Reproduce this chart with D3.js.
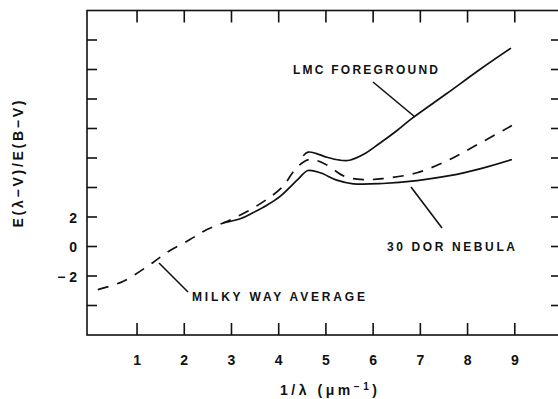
<!DOCTYPE html>
<html lang="en">
<head>
    <meta charset="UTF-8">
    <title>Extinction curves: LMC foreground, 30 Dor nebula, Milky Way average</title>
    <script src="https://d3js.org/d3.v7.min.js"></script>
    <style>
        body { margin: 0; background: #fff; }
        text { font-family: "Liberation Sans", Arial, sans-serif; font-weight: bold; fill: #111; }
    </style>
</head>
<body>
    <div id="chart"></div>

    <script>
        // values: [1/lambda, E(lambda-V)/E(B-V)]
        const lmcForeground = [
            [4.52, 6.15], [4.62, 6.4], [4.8, 6.3], [5.02, 6.05], [5.3, 5.85], [5.5, 5.85],
            [5.8, 6.25], [6.14, 7.0], [6.5, 7.85], [6.85, 8.75], [7.56, 10.37], [8.26, 12.0], [8.92, 13.45]
        ];
        const doradusNebula = [
            [2.82, 1.6], [3.2, 1.9], [3.46, 2.3], [3.75, 2.8], [4.03, 3.4], [4.39, 4.5], [4.62, 5.15],
            [4.88, 5.0], [5.23, 4.5], [5.58, 4.25], [6.2, 4.27], [6.93, 4.47], [7.62, 4.8], [8.3, 5.3], [8.94, 5.9]
        ];
        const milkyWay = [
            [0.17, -2.92], [0.7, -2.37], [1.34, -1.08], [1.63, -0.41], [2.12, 0.47], [2.48, 1.15],
            [2.9, 1.7], [3.33, 2.37], [3.75, 3.2], [4.09, 4.07], [4.34, 5.2], [4.56, 5.8], [4.7, 5.9],
            [4.98, 5.6], [5.4, 4.75], [5.79, 4.54], [6.2, 4.6], [6.93, 5.0], [7.62, 5.9], [7.9, 6.37], [8.94, 8.2]
        ];
        const xTicks = [1, 2, 3, 4, 5, 6, 7, 8, 9];
        const yTicks = [-4, -2, 0, 2, 4, 6, 8, 10, 12, 14];
        const yTickLabels = { "2": "2", "0": "0", "-2": "\u2212 2" };

        const width = 558;
        const height = 399;

        const svg = d3.select("#chart")
            .append("svg")
            .attr("width", width)
            .attr("height", height);

        const x = d3.scaleLinear().domain([-0.06, 10]).range([87, 562]);
        const y = d3.scaleLinear().domain([-6, 16]).range([335, 10.5]);

        // frame
        const frame = svg.append("g")
            .attr("stroke", "#111")
            .attr("stroke-width", 1.6)
            .attr("fill", "none");
        frame.append("rect")
            .attr("x", x(-0.06))
            .attr("y", y(16))
            .attr("width", x(10) - x(-0.06))
            .attr("height", y(-6) - y(16));

        // inward ticks on all four sides
        frame.selectAll(".xb").data(xTicks).join("line")
            .attr("x1", d => x(d)).attr("x2", d => x(d))
            .attr("y1", y(-6)).attr("y2", y(-6) - 12);
        frame.selectAll(".xt").data(xTicks).join("line")
            .attr("x1", d => x(d)).attr("x2", d => x(d))
            .attr("y1", y(16)).attr("y2", y(16) + 12);
        frame.selectAll(".yl").data(yTicks).join("line")
            .attr("x1", x(-0.06)).attr("x2", x(-0.06) + 10)
            .attr("y1", d => y(d)).attr("y2", d => y(d));
        frame.selectAll(".yr").data(yTicks).join("line")
            .attr("x1", x(10)).attr("x2", x(10) - 11)
            .attr("y1", d => y(d)).attr("y2", d => y(d));

        // tick labels
        svg.append("g").selectAll("text").data(xTicks).join("text")
            .attr("x", d => x(d))
            .attr("y", 365)
            .attr("text-anchor", "middle")
            .attr("font-size", 14)
            .text(d => d);

        svg.append("g").selectAll("text").data(yTicks.filter(d => yTickLabels[d])).join("text")
            .attr("x", 77)
            .attr("y", d => y(d) + 5.5)
            .attr("text-anchor", "end")
            .attr("font-size", 14)
            .text(d => yTickLabels[d]);

        // axis titles
        const xTitle = svg.append("text")
            .attr("x", 280)
            .attr("y", 395)
            .attr("font-size", 14)
            .attr("textLength", 97)
            .attr("lengthAdjust", "spacing");
        xTitle.append("tspan").text("1/\u03bb  (\u03bcm");
        xTitle.append("tspan").attr("dy", -5).attr("font-size", 10).text("\u2212");
        xTitle.append("tspan").attr("dy", 0).attr("font-size", 10).text("1");
        xTitle.append("tspan").attr("dy", 5).text(")");

        svg.append("text")
            .attr("transform", "translate(23,164) rotate(-90)")
            .attr("text-anchor", "middle")
            .attr("font-size", 14)
            .attr("textLength", 127)
            .attr("lengthAdjust", "spacing")
            .text("E(\u03bb\u2212V)/E(B\u2212V)");

        // curves
        const line = d3.line()
            .x(d => x(d[0]))
            .y(d => y(d[1]))
            .curve(d3.curveCatmullRom.alpha(0.5));

        const curves = svg.append("g")
            .attr("fill", "none")
            .attr("stroke", "#111")
            .attr("stroke-width", 1.7);
        curves.append("path").attr("d", line(lmcForeground));
        curves.append("path").attr("d", line(doradusNebula));
        curves.append("path").attr("d", line(milkyWay)).attr("stroke-dasharray", "11,9");

        // labels with leader lines
        const notes = [
            { text: "LMC FOREGROUND", x: 293, y: 73.5, len: 145, from: [373, 82], to: [415, 117] },
            { text: "30 DOR NEBULA", x: 387, y: 250.5, len: 128, from: [411, 187], to: [442, 228] },
            { text: "MILKY WAY AVERAGE", x: 192, y: 300.5, len: 173, from: [159, 263], to: [188, 292] }
        ];
        const note = svg.append("g");
        note.selectAll("line").data(notes).join("line")
            .attr("x1", d => d.from[0]).attr("y1", d => d.from[1])
            .attr("x2", d => d.to[0]).attr("y2", d => d.to[1])
            .attr("stroke", "#111")
            .attr("stroke-width", 1.6);
        note.selectAll("text").data(notes).join("text")
            .attr("x", d => d.x)
            .attr("y", d => d.y)
            .attr("font-size", 12)
            .attr("textLength", d => d.len)
            .attr("lengthAdjust", "spacing")
            .text(d => d.text);
    </script>
</body>
</html>
